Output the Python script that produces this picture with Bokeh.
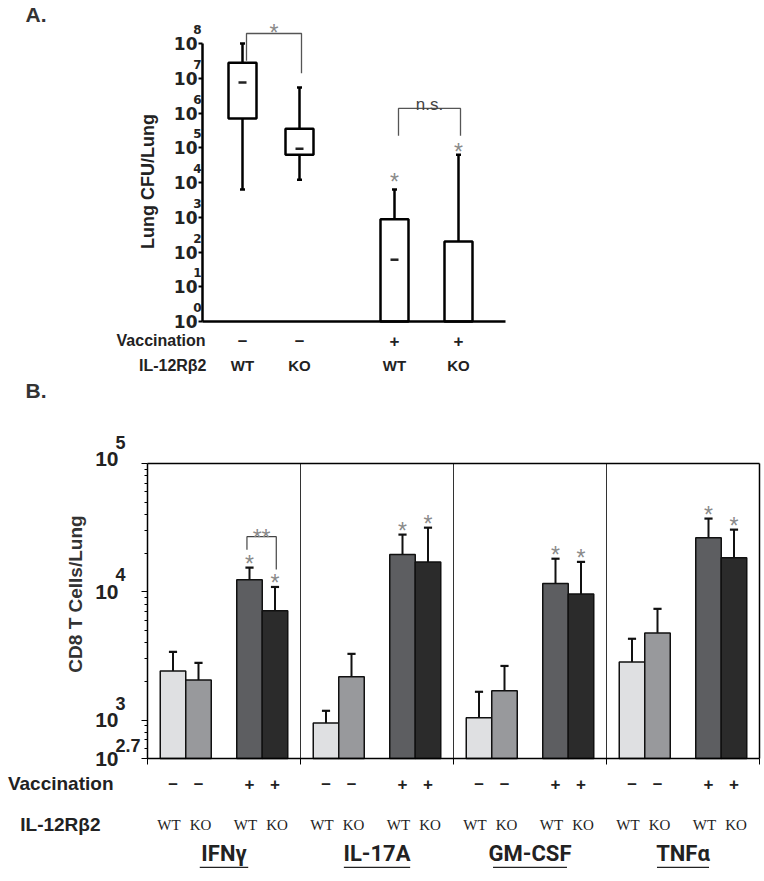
import math
from bokeh.plotting import figure
from bokeh.layouts import column
from bokeh.models import (ColumnDataSource, FixedTicker, CustomJSTickFormatter, Range1d,
                          LinearAxis, LogAxis)
from bokeh.core.properties import value
from bokeh.embed import file_html
from bokeh.resources import INLINE

# ---------------- Panel A data: lung CFU / lung ----------------
A_VACCINATION = ["–", "–", "+", "+"]
A_GENOTYPE = ["WT", "KO", "WT", "KO"]
A_Q1 = [6.9e5, 6.3e4, 1.0, 1.0]
A_Q3 = [2.8e7, 3.5e5, 8.7e2, 2.0e2]
A_MEDIAN = [7.6e6, 9.3e4, 6.0e1, float("nan")]
A_WHISKER_HIGH = [1.0e8, 5.4e6, 6.3e3, 6.3e4]
A_WHISKER_LOW = [6.3e3, 1.2e4, float("nan"), float("nan")]
A_STAR = [False, False, True, True]
A_TICK_EXPONENTS = [0, 1, 2, 3, 4, 5, 6, 7, 8]
A_SIG_PAIRS = [(0, 1), (2, 3)]
A_SIG_TEXT = ["*", "n.s."]
A_SIG_TOP = [1.94e8, 1.35e6]
A_SIG_LEFT_END = [3.2e7, 2.2e5]
A_SIG_RIGHT_END = [1.4e7, 2.2e5]

# ---------------- Panel B data: CD8 T cells / lung ----------------
B_CYTOKINES = ["IFNγ", "IL-17A", "GM-CSF", "TNFα"]
B_VACCINATION = ["–", "–", "+", "+"]
B_GENOTYPE = ["WT", "KO", "WT", "KO"]
B_IFNG = [2415, 2050, 12400, 7100]
B_IFNG_ERR = [3400, 2790, 15400, 10900]
B_IL17A = [950, 2170, 19500, 17100]
B_IL17A_ERR = [1180, 3280, 27900, 31600]
B_GMCSF = [1040, 1690, 11600, 9600]
B_GMCSF_ERR = [1660, 2640, 18100, 17100]
B_TNFA = [2840, 4780, 26400, 18400]
B_TNFA_ERR = [4300, 7360, 37200, 30500]
B_STAR = [False, False, True, True]
B_TICK_EXPONENTS = [2.7, 3, 4, 5]
B_TICK_LABELS = ["2.7", "3", "4", "5"]
B_SIG_GROUP = 0
B_SIG_BARS = (2, 3)
B_SIG_TEXT = "**"
B_SIG_TOP = 2.69e4
B_SIG_LEFT_END = 2.13e4
B_SIG_RIGHT_END = 1.49e4

# ---------------- styling / layout ----------------
SANS = "Liberation Sans"
COND = "Roboto"
SERIF = "Liberation Serif"
DEJAVU = "DejaVu Sans"
INK = "#222222"
STAR_GREY = "#8a8a8a"
W = 764
PAGE_X0 = 0


def empty_fmt():
    return CustomJSTickFormatter(code="return ''")


def style_axis(ax, line_w, tick_in, minor_in=0, tick_w=1):
    ax.formatter = empty_fmt()
    ax.major_label_text_font_size = "0px"
    ax.major_label_standoff = 0
    ax.axis_line_width = line_w
    ax.axis_line_color = "black"
    ax.major_tick_in = tick_in
    ax.major_tick_out = 0
    ax.major_tick_line_width = tick_w
    ax.minor_tick_in = minor_in
    ax.minor_tick_out = 0
    if tick_in == 0:
        ax.major_tick_line_color = None
    if minor_in == 0:
        ax.minor_tick_line_color = None


def txt(p, x, y, text, size, font=SANS, style="bold", color=INK, align="center",
        baseline="middle", xo=0, yo=0, angle=0):
    n = len(text)
    src = ColumnDataSource(dict(x=x, y=y, t=text,
                                xo=xo if isinstance(xo, list) else [xo] * n,
                                yo=yo if isinstance(yo, list) else [yo] * n))
    p.text(x="x", y="y", text="t", source=src, x_offset="xo", y_offset="yo",
           text_align=align, text_baseline=baseline, angle=angle,
           text_font=value(font), text_font_style=style,
           text_font_size=value(size), text_color=color)


# ================= Panel A =================
A_H = 378
A_PAGE_TOP = 0
A_AXIS_X = 202          # page x of the y axis
A_TOP_Y = 43            # page y of 10^8
A_PX_DEC = 34.75        # pixels per decade
A_X = [40, 97, 192, 256]
A_HALF = 14
A_YMIN = 1.0

a_log_top = 8 + (A_TOP_Y - A_PAGE_TOP) / A_PX_DEC
a_log_bot = 8 - (A_PAGE_TOP + A_H - A_TOP_Y) / A_PX_DEC

pa = figure(width=W, height=A_H, y_axis_type="log",
            x_range=Range1d(PAGE_X0 - A_AXIS_X, PAGE_X0 + W - A_AXIS_X),
            y_range=Range1d(10 ** a_log_bot, 10 ** a_log_top),
            x_axis_location="above", y_axis_location="right",
            output_backend="svg", toolbar_location=None, min_border=0)
pa.outline_line_color = None
pa.xgrid.visible = False
pa.ygrid.visible = False

ya = pa.yaxis[0]
ya.ticker = FixedTicker(ticks=[10.0 ** e for e in A_TICK_EXPONENTS], minor_ticks=[])
style_axis(ya, 2.5, 4, tick_w=2)
ya.fixed_location = 0
ya.bounds = (1.0, 1e8)

xa = pa.xaxis[0]
xa.ticker = FixedTicker(ticks=[])
style_axis(xa, 2.5, 0)
xa.fixed_location = A_YMIN
xa.bounds = (0, 303)

# whiskers
pa.segment(x0=A_X, y0=A_Q3, x1=A_X, y1=A_WHISKER_HIGH, line_width=2.5, line_color="black")
low_idx = [i for i in range(4) if not math.isnan(A_WHISKER_LOW[i])]
pa.segment(x0=[A_X[i] for i in low_idx], y0=[A_Q1[i] for i in low_idx],
           x1=[A_X[i] for i in low_idx], y1=[A_WHISKER_LOW[i] for i in low_idx],
           line_width=2.5, line_color="black")
cap_x = A_X + [A_X[i] for i in low_idx]
cap_y = A_WHISKER_HIGH + [A_WHISKER_LOW[i] for i in low_idx]
pa.segment(x0=[x - 2.5 for x in cap_x], x1=[x + 2.5 for x in cap_x], y0=cap_y, y1=cap_y,
           line_width=2.5, line_color="black")

# boxes
pa.quad(left=[x - A_HALF for x in A_X], right=[x + A_HALF for x in A_X],
        bottom=A_Q1, top=A_Q3, fill_color="white", line_color="black", line_width=2.5)

# medians
med_idx = [i for i in range(4) if not math.isnan(A_MEDIAN[i])]
pa.segment(x0=[A_X[i] - 4 for i in med_idx], x1=[A_X[i] + 4 for i in med_idx],
           y0=[A_MEDIAN[i] for i in med_idx], y1=[A_MEDIAN[i] for i in med_idx],
           line_width=2.5, line_color=INK)

# stars above vaccinated groups
star_idx = [i for i in range(4) if A_STAR[i]]
txt(pa, [A_X[i] for i in star_idx], [A_WHISKER_HIGH[i] for i in star_idx], ["*"] * len(star_idx),
    "23px", style="normal", color=STAR_GREY, baseline="alphabetic", yo=[-7, -3])

# significance brackets
for k, (i, j) in enumerate(A_SIG_PAIRS):
    xl, xr = A_X[i] + 4, A_X[j] + 2
    top = A_SIG_TOP[k]
    pa.line(x=[xl, xl, xr, xr], y=[A_SIG_LEFT_END[k], top, top, A_SIG_RIGHT_END[k]],
            line_color="#555555", line_width=1.3)
    if A_SIG_TEXT[k] == "*":
        txt(pa, [(xl + xr) / 2], [top], ["*"], "23px", style="normal", color=STAR_GREY,
            baseline="alphabetic", yo=0)
    else:
        txt(pa, [(xl + xr) / 2], [top], [A_SIG_TEXT[k]], "17px", style="normal", color="#444444",
            baseline="alphabetic", yo=-4)

# y tick labels (10 with superscript exponent)
ty = [10.0 ** e for e in A_TICK_EXPONENTS]
txt(pa, [0] * len(ty), ty, ["10"] * len(ty), "17px", font=DEJAVU, align="right", xo=-5)
txt(pa, [0] * len(ty), ty, [str(e) for e in A_TICK_EXPONENTS], "12px", font=DEJAVU,
    align="right", xo=-1, yo=-14)

# axis title
txt(pa, [0], [1e4], ["Lung CFU/Lung"], "18px", angle=math.pi / 2, xo=-55, yo=-1)

# category rows
txt(pa, A_X, [A_YMIN] * 4, A_VACCINATION, "17px", yo=19)
txt(pa, A_X, [A_YMIN] * 4, A_GENOTYPE, "15px", yo=44)
txt(pa, [0], [A_YMIN], ["Vaccination"], "16px", align="right", xo=3, yo=19)
txt(pa, [0], [A_YMIN], ["IL-12Rβ2"], "16px", align="right", xo=4, yo=44)
txt(pa, [0], [1e8], ["A."], "21px", color="#333333", align="left", xo=-177, yo=-29)

# ================= Panel B =================
B_H = 490
B_PAGE_TOP = A_PAGE_TOP + A_H
B_AXIS_X = 147          # page x of the y axis
B_TOP_Y = 463           # page y of 10^5
B_YMIN, B_YMAX = 10 ** 2.7, 1e5
B_PX_UNIT = 25.5        # pixels per x unit
B_PX_DEC = 295 / (5 - 2.7)
B_OFFSETS = [1, 2, 4, 5]
B_GROUP_W = 6
B_FILLS = ["#dfe0e2", "#98999c", "#5d5e61", "#2b2b2b"]

b_log_top = 5 + (B_TOP_Y - B_PAGE_TOP) / B_PX_DEC
b_log_bot = 5 - (B_PAGE_TOP + B_H - B_TOP_Y) / B_PX_DEC

pb = figure(width=W, height=B_H, y_axis_type="log",
            x_range=Range1d((PAGE_X0 - B_AXIS_X) / B_PX_UNIT, (PAGE_X0 + W - B_AXIS_X) / B_PX_UNIT),
            y_range=Range1d(10 ** b_log_bot, 10 ** b_log_top),
            x_axis_location="above", y_axis_location="right",
            output_backend="svg", toolbar_location=None, min_border=0)
pb.outline_line_color = None
pb.xgrid.visible = False
pb.ygrid.visible = False

yb = pb.yaxis[0]
minor = [m * 10.0 ** d for d in (2, 3, 4) for m in range(2, 10) if B_YMIN * 1.001 < m * 10.0 ** d < B_YMAX]
yb.ticker = FixedTicker(ticks=[10.0 ** e for e in B_TICK_EXPONENTS], minor_ticks=minor)
style_axis(yb, 1.5, 6, minor_in=3)
yb.fixed_location = 0
yb.bounds = (B_YMIN, B_YMAX)

xb = pb.xaxis[0]
xb.ticker = FixedTicker(ticks=[0, 6, 12, 18, 24])
style_axis(xb, 1.5, 6)
xb.fixed_location = B_YMIN
xb.bounds = (0, 24)

# frame: top and right borders as axes without ticks
top_ax = LinearAxis(ticker=FixedTicker(ticks=[]))
style_axis(top_ax, 1.5, 0)
top_ax.fixed_location = B_YMAX
top_ax.bounds = (0, 24)
pb.add_layout(top_ax, "above")
right_ax = LogAxis(ticker=FixedTicker(ticks=[]))
style_axis(right_ax, 1.5, 0)
right_ax.fixed_location = 24
right_ax.bounds = (B_YMIN, B_YMAX)
pb.add_layout(right_ax, "right")

# group separators
seps = [6, 12, 18]
pb.segment(x0=seps, x1=seps, y0=[B_YMIN] * 3, y1=[B_YMAX] * 3, line_color="#333333", line_width=1)

means = [B_IFNG, B_IL17A, B_GMCSF, B_TNFA]
errs = [B_IFNG_ERR, B_IL17A_ERR, B_GMCSF_ERR, B_TNFA_ERR]
bx, btop, berr, bcol, sx, sy = [], [], [], [], [], []
for g in range(4):
    for k in range(4):
        x = g * B_GROUP_W + B_OFFSETS[k]
        bx.append(x)
        btop.append(means[g][k])
        berr.append(errs[g][k])
        bcol.append(B_FILLS[k])
        if B_STAR[k]:
            sx.append(x)
            sy.append(errs[g][k])

bsrc = ColumnDataSource(dict(x=bx, top=btop, err=berr, color=bcol))
pb.segment(x0="x", y0="top", x1="x", y1="err", source=bsrc, line_width=2, line_color="#111111")
pb.segment(x0=[x - 0.16 for x in bx], x1=[x + 0.16 for x in bx], y0=berr, y1=berr,
           line_width=2.2, line_color="#111111")
pb.vbar(x="x", width=1, top="top", bottom=B_YMIN, source=bsrc, fill_color="color",
        line_color="#111111", line_width=1.5)

txt(pb, sx, sy, ["*"] * len(sx), "23px", style="normal", color=STAR_GREY, baseline="alphabetic", yo=-4)

# ** bracket
xl = B_SIG_GROUP * B_GROUP_W + B_OFFSETS[B_SIG_BARS[0]] - 0.1
xr = B_SIG_GROUP * B_GROUP_W + B_OFFSETS[B_SIG_BARS[1]] + 0.05
pb.line(x=[xl, xl, xr, xr], y=[B_SIG_LEFT_END, B_SIG_TOP, B_SIG_TOP, B_SIG_RIGHT_END],
        line_color="#444444", line_width=1.2)
txt(pb, [(xl + xr) / 2], [B_SIG_TOP], [B_SIG_TEXT], "23px", style="normal", color=STAR_GREY,
    baseline="alphabetic", yo=1)

# y tick labels
tyb = [10.0 ** e for e in B_TICK_EXPONENTS]
txt(pb, [0] * 4, tyb, ["10"] * 4, "21px", align="right", xo=-29, yo=[0, 0, 0, -5])
txt(pb, [0] * 4, tyb, B_TICK_LABELS, "18px", align="left", xo=-32, yo=[-13, -17, -17, -21])

# axis title
txt(pb, [0], [10 ** ((5 + 2.7) / 2)], ["CD8 T Cells/Lung"], "19px", color="#333333",
    angle=math.pi / 2, xo=-72, yo=-17)

# category rows
txt(pb, bx, [B_YMIN] * 16, B_VACCINATION * 4, "17px", yo=25)
txt(pb, bx, [B_YMIN] * 16, B_GENOTYPE * 4, "15px", font=SERIF, style="normal", yo=66,
    xo=[-4, 2, -4, 2] * 4)
txt(pb, [0], [B_YMIN], ["Vaccination"], "19px", align="right", xo=-34, yo=25)
txt(pb, [0], [B_YMIN], ["IL-12Rβ2"], "19px", align="right", xo=-47, yo=66)

# cytokine names, underlined
cyto_x = [g * B_GROUP_W + B_GROUP_W / 2 for g in range(4)]
txt(pb, cyto_x, [B_YMIN] * 4, B_CYTOKINES, "22px", font=COND, yo=95)
UNDER_HALF = [0.95, 1.3, 1.45, 1.02]
y_under = B_YMIN * 10 ** (-109 / B_PX_DEC)
pb.segment(x0=[c - h for c, h in zip(cyto_x, UNDER_HALF)], x1=[c + h for c, h in zip(cyto_x, UNDER_HALF)],
           y0=[y_under] * 4, y1=[y_under] * 4, line_color=INK, line_width=1.5)

txt(pb, [0], [B_YMAX], ["B."], "21px", color="#333333", align="left", xo=-122, yo=-73)

layout = column(pa, pb, spacing=0)
open("out.html", "w").write(file_html(layout, INLINE, title="CFU and CD8 T cells"))
